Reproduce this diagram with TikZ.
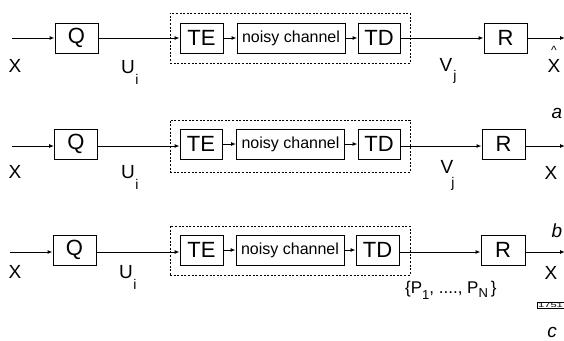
\documentclass[tikz,border=0pt]{standalone}
\usepackage{fontspec}
\setmainfont{Liberation Sans}
\usetikzlibrary{arrows.meta}

\begin{document}
\begin{tikzpicture}[x=1pt,y=-1pt,
  blk/.style={draw, line width=0.9pt, minimum height=30pt, inner sep=0pt,
              font=\fontsize{22}{22}\selectfont},
  chan/.style={blk, minimum width=108pt, font=\fontsize{16}{16}\selectfont},
  grp/.style={draw, line width=0.8pt, dash pattern=on 2pt off 1.6pt},
  arr/.style={line width=1pt, -{Latex[length=5pt,width=4pt]}},
  lbl/.style={font=\fontsize{19}{19}\selectfont, inner sep=0pt},
  sub/.style={font=\fontsize{14}{14}\selectfont, inner sep=0pt},
  partletter/.style={font=\itshape\fontsize{19}{19}\selectfont, inner sep=0pt}]
\useasboundingbox (0,0) rectangle (564,340);

% ---------- system a ----------
\node[grp, minimum width=240pt, minimum height=50pt] (G1) at (290,38) {};
\node[blk, minimum width=43pt] (Q1)  at (76.5,38)  {Q};
\node[blk, minimum width=43pt] (TE1) at (201.5,38) {TE};
\node[chan]                    (C1)  at (291,38)   {noisy channel};
\node[blk, minimum width=42pt] (TD1) at (379,38)   {TD};
\node[blk, minimum width=43pt] (R1)  at (505.5,38) {R};
\coordinate (in1) at (12,38);
\coordinate (out1) at (565,38);
\draw[arr] (in1) -- (Q1);
\draw[arr] (Q1) -- (TE1);
\draw[arr] (TE1) -- (C1);
\draw[arr] (C1) -- (TD1);
\draw[arr] (TD1) -- (R1);
\draw[arr] (R1) -- (out1);
\node[lbl] (x1) at (15,66) {X};
\node[lbl] (u1) at (128,67) {U};
\node[sub] (ui1) at (137,79) {i};
\node[lbl] (v1) at (446,65) {V};
\node[sub] (vj1) at (455,77) {j};
\node[lbl] (xh1) at (554,66) {X};
\node[font=\fontsize{12}{12}\selectfont, inner sep=0pt] (h1) at (554,50) {\symbol{"005E}};
\node[partletter] (ca) at (557,113) {a};

% ---------- system b ----------
\node[grp, minimum width=240pt, minimum height=52pt] (G2) at (290,146) {};
\node[blk, minimum width=43pt] (Q2)  at (76,144)  {Q};
\node[blk, minimum width=42pt] (TE2) at (201,144) {TE};
\node[chan]                    (C2)  at (290.5,144) {noisy channel};
\node[blk, minimum width=42pt] (TD2) at (379,144) {TD};
\node[blk, minimum width=43pt] (R2)  at (503.5,144) {R};
\coordinate (in2) at (12,146);
\coordinate (out2) at (565,146);
\draw[arr] (in2) -- (in2 -| Q2.west);
\draw[arr] (Q2.east |- in2) -- (TE2.west |- in2);
\draw[arr] (TE2) -- (C2);
\draw[arr] (C2) -- (TD2);
\draw[arr] (TD2.east |- in2) -- (R2.west |- in2);
\draw[arr] (R2.east |- in2) -- (out2);
\node[lbl] (x2) at (15,172) {X};
\node[lbl] (u2) at (128,172) {U};
\node[sub] (ui2) at (137,184) {i};
\node[lbl] (v2) at (447,167) {V};
\node[sub] (vj2) at (453,184) {j};
\node[lbl] (xo2) at (551,173) {X};
\node[partletter] (cb) at (557,231) {b};

% ---------- system c ----------
\node[grp, minimum width=240pt, minimum height=49pt] (G3) at (290,250.5) {};
\node[blk, minimum width=43pt] (Q3)  at (74.5,250)  {Q};
\node[blk, minimum width=43pt] (TE3) at (201.5,250) {TE};
\node[chan]                    (C3)  at (290,250)   {noisy channel};
\node[blk, minimum width=43pt] (TD3) at (377.5,250) {TD};
\node[blk, minimum width=44pt] (R3)  at (503,250)   {R};
\coordinate (in3) at (10,252);
\coordinate (out3) at (565,252);
\draw[arr] (in3) -- (in3 -| Q3.west);
\draw[arr] (Q3.east |- in3) -- (TE3.west |- in3);
\draw[arr] (TE3) -- (C3);
\draw[arr] (C3) -- (TD3);
\draw[arr] (TD3.east |- in3) -- (R3.west |- in3);
\draw[arr] (R3.east |- in3) -- (out3);
\node[lbl] (x3) at (15,272) {X};
\node[lbl] (u3) at (126,272) {U};
\node[sub] (ui3) at (135,284) {i};
\node[font=\fontsize{17}{17}\selectfont, inner sep=0pt, anchor=west] (p3) at (405,290)
  {\{P\raisebox{-6pt}{\fontsize{13}{13}\selectfont 1},~....,~P\raisebox{-4pt}{\fontsize{13}{13}\selectfont N}\,\}};
\node[lbl] (xo3) at (551,273) {X};
% figure number stamp
\node[draw, line width=0.5pt, inner sep=0.8pt, anchor=west,
      font=\fontsize{7}{7}\selectfont] (tag) at (537,305)
  {\scalebox{1.6}[1]{1751}};
\node[partletter] (cc) at (552,332) {c};
\end{tikzpicture}
\end{document}
